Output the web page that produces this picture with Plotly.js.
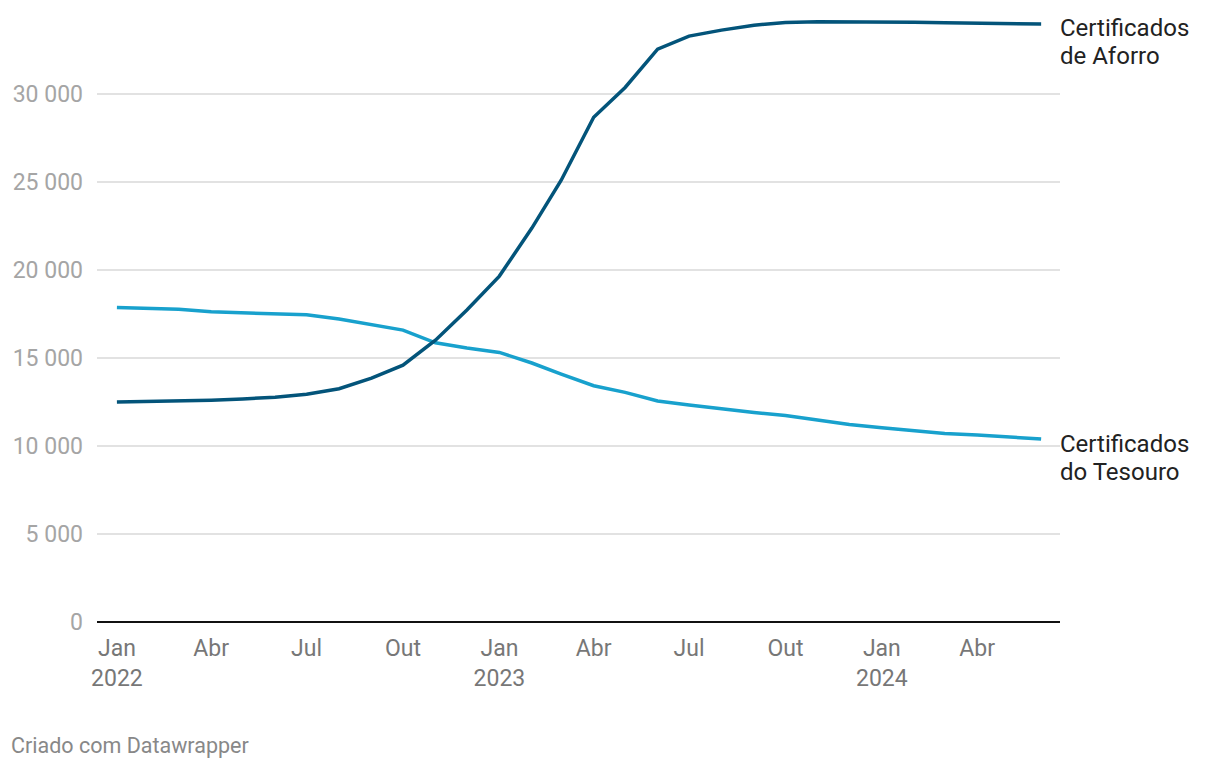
<!DOCTYPE html>
<html>
<head>
<meta charset="utf-8">
<script src="https://cdn.plot.ly/plotly-3.0.1.min.js"></script>
<style>html,body{margin:0;padding:0;background:#fff;}#chart{width:1220px;height:768px;}</style>
</head>
<body>
<div id="chart"></div>
<script>
const months = [
  '2022-01-01','2022-02-01','2022-03-01','2022-04-01','2022-05-01','2022-06-01',
  '2022-07-01','2022-08-01','2022-09-01','2022-10-01','2022-11-01','2022-12-01',
  '2023-01-01','2023-02-01','2023-03-01','2023-04-01','2023-05-01','2023-06-01',
  '2023-07-01','2023-08-01','2023-09-01','2023-10-01','2023-11-01','2023-12-01',
  '2024-01-01','2024-02-01','2024-03-01','2024-04-01','2024-05-01','2024-06-01'
];
const aforro = [
  12500,12530,12560,12610,12680,12780,12950,13260,13860,14600,16020,17730,
  19660,22390,25110,28690,30380,32560,33300,33640,33920,34070,34120,34120,
  34110,34090,34060,34030,34000,33990
];
const tesouro = [
  17880,17830,17770,17630,17590,17530,17460,17220,16880,16590,15870,15570,
  15320,14720,14090,13430,13050,12560,12330,12100,11910,11740,11480,11230,
  11040,10850,10720,10630,10530,10400
];
const aforroLabel = ['Certificados','de Aforro'];
const tesouroLabel = ['Certificados','do Tesouro'];
const yTickVals = [0,5000,10000,15000,20000,25000,30000];
const yTickText = ['0','5 000','10 000','15 000','20 000','25 000','30 000'];
const xTickVals = ['2022-01-01','2022-04-01','2022-07-01','2022-10-01','2023-01-01','2023-04-01','2023-07-01','2023-10-01','2024-01-01','2024-04-01'];
const xTickText = ['Jan<br>2022','Abr','Jul','Out','Jan<br>2023','Abr','Jul','Out','Jan<br>2024','Abr'];
const footer = 'Criado com Datawrapper';

const colors = ['#03547a','#18a1cd'];
const data = [
  {x: months, y: tesouro, type:'scatter', mode:'lines', line:{color:colors[1], width:3.5}, hoverinfo:'skip'},
  {x: months, y: aforro, type:'scatter', mode:'lines', line:{color:colors[0], width:3.5}, hoverinfo:'skip'}
];
const last = months.length - 1;
function lab(text, yv, shift) {
  return {x:months[last], y:yv, xref:'x', yref:'y', text:text, showarrow:false,
    xanchor:'left', yanchor:'middle', align:'left', xshift:17, yshift:shift,
    font:{size:24, color:'#222'}};
}
const layout = {
  width:1220, height:768,
  margin:{l:97, r:160, t:15, b:146},
  paper_bgcolor:'#fff', plot_bgcolor:'#fff',
  showlegend:false,
  font:{family:'Roboto, sans-serif'},
  xaxis:{
    type:'date', range:['2021-12-13','2024-06-19'],
    tickvals:xTickVals, ticktext:xTickText,
    showgrid:false, zeroline:false, showline:false,
    ticks:'', tickfont:{size:23, color:'#777'}, ticklabelstandoff:10
  },
  yaxis:{
    range:[0,34500], tickvals:yTickVals, ticktext:yTickText,
    showgrid:true, gridcolor:'#e2e2e2', gridwidth:1.5,
    zeroline:true, zerolinecolor:'#111', zerolinewidth:2,
    showline:false, ticks:'', tickfont:{size:23, color:'#a5a5a5'},
    ticklabelstandoff:13
  },
  annotations:[
    lab(aforroLabel[0], aforro[last], -4),
    lab(aforroLabel[1], aforro[last], -32),
    lab(tesouroLabel[0], tesouro[last], -5),
    lab(tesouroLabel[1], tesouro[last], -33),
    {x:0, y:0, xref:'paper', yref:'paper', text:footer, showarrow:false,
     xanchor:'left', yanchor:'middle', xshift:-88, yshift:-123,
     font:{size:21.5, color:'#888'}}
  ]
};
Plotly.newPlot('chart', data, layout, {displayModeBar:false, staticPlot:true});
</script>
</body>
</html>
